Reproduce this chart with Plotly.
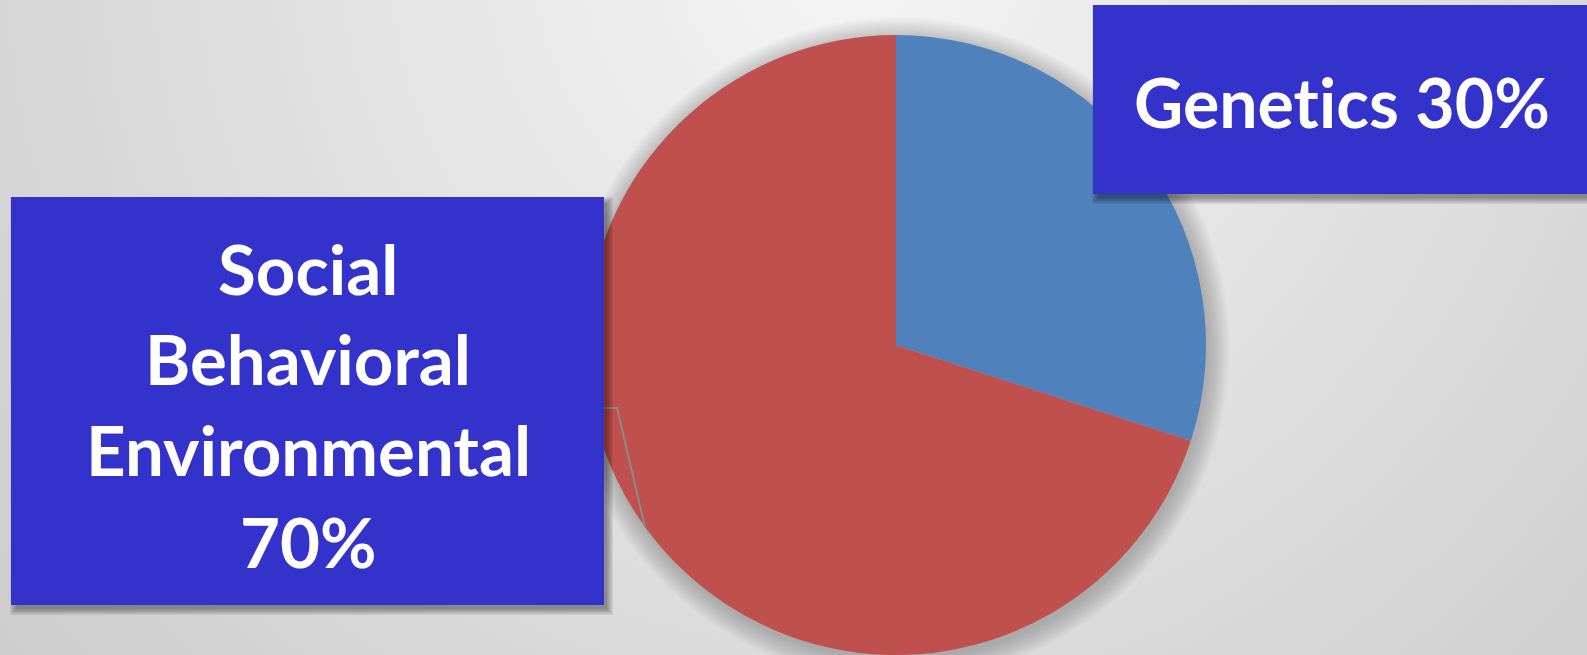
import base64
import plotly.graph_objects as go

# ---- data ----
labels = ["Genetics", "Social Behavioral Environmental"]
values = [30, 70]
slice_colors = ["#4F81BD", "#C0504D"]
genetics_text = "Genet\u200cics 30%"
social_lines = ["Social", "Behavioral", "Environmental", "70%"]

W, H = 1587, 655
BOX = "#3333CC"
FONT = "Lato"


def px(x):
    return x / W


def py(y):
    return 1 - y / H


svg = f'''<svg xmlns="http://www.w3.org/2000/svg" width="{W}" height="{H}">
<defs><radialGradient id="g" gradientUnits="userSpaceOnUse" cx="850" cy="-50" r="1150">
<stop offset="0" stop-color="#F5F5F5"/><stop offset="1" stop-color="#CBCBCB"/></radialGradient></defs>
<rect width="{W}" height="{H}" fill="url(#g)"/></svg>'''
bg_src = "data:image/svg+xml;base64," + base64.b64encode(svg.encode()).decode()

cx, cy, R = 896, 346, 310

fig = go.Figure()
fig.add_trace(go.Pie(
    labels=labels, values=values, sort=False, direction="clockwise", rotation=0,
    marker=dict(colors=slice_colors, line=dict(width=0)),
    textinfo="none", hoverinfo="label+percent", showlegend=False,
    domain=dict(x=[px(cx - R), px(cx + R)], y=[0, (R * 2) / H]),
))

shapes = []
# soft glow behind pie
for k in range(14):
    r = R + 1 + k * 1.6
    shapes.append(dict(type="circle", xref="paper", yref="paper",
                       x0=px(cx + 2 - r), x1=px(cx + 2 + r), y0=py(cy + 3 + r), y1=py(cy + 3 - r),
                       fillcolor="rgba(0,0,0,0.014)", line=dict(width=0), layer="below"))


def box_with_shadow(x0, y0, x1, y1):
    out = []
    for k in range(6):
        e = k * 1.2
        out.append(dict(type="rect", xref="paper", yref="paper",
                        x0=px(x0 + 3 - e + 2), x1=px(x1 + 3 + e), y0=py(y1 + 4 + e), y1=py(y0 + 4 - e + 2),
                        fillcolor="rgba(0,0,0,0.07)", line=dict(width=0), layer="above"))
    out.append(dict(type="rect", xref="paper", yref="paper",
                    x0=px(x0), x1=px(x1), y0=py(y1), y1=py(y0),
                    fillcolor=BOX, line=dict(width=0), layer="above"))
    return out


# leader line
shapes.append(dict(type="path", xref="paper", yref="paper",
                   path=f"M {px(603)},{py(408)} L {px(617)},{py(408)} L {px(645)},{py(527)}",
                   line=dict(color="#8A8A8A", width=2), layer="above"))
shapes += box_with_shadow(11, 197, 604, 605)
shapes += box_with_shadow(1093, 5, 1600, 194)

annotations = [dict(text=f"<b>{genetics_text}</b>", x=px(1342), y=py(101), xref="paper", yref="paper",
                    xanchor="center", yanchor="middle", showarrow=False,
                    font=dict(family=FONT, size=68, color="white"))]
line_y = [268, 358, 449, 541]
for t, yy in zip(social_lines, line_y):
    annotations.append(dict(text=f"<b>{t}</b>", x=px(308), y=py(yy), xref="paper", yref="paper",
                            xanchor="center", yanchor="middle", showarrow=False,
                            font=dict(family=FONT, size=69, color="white")))

fig.update_layout(
    width=W, height=H, margin=dict(l=0, r=0, t=0, b=0),
    paper_bgcolor="#E0E0E0", plot_bgcolor="rgba(0,0,0,0)",
    images=[dict(source=bg_src, xref="paper", yref="paper", x=0, y=1, sizex=1, sizey=1,
                 sizing="stretch", xanchor="left", yanchor="top", layer="below")],
    shapes=shapes, annotations=annotations,
)
fig.write_html("out.html")
